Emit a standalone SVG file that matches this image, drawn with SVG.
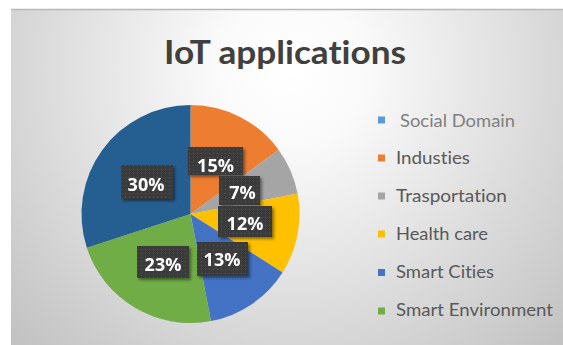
<svg xmlns="http://www.w3.org/2000/svg" width="563" height="345" viewBox="0 0 563 345">
  <defs>
    <radialGradient id="bg" gradientUnits="userSpaceOnUse" cx="290" cy="70" r="380">
      <stop offset="0" stop-color="#ffffff"/>
      <stop offset="0.2" stop-color="#fafafa"/>
      <stop offset="1" stop-color="#c3c3c3"/>
    </radialGradient>
    <pattern id="dots" width="4" height="4" patternUnits="userSpaceOnUse">
      <rect width="4" height="4" fill="#3a3a3a"/>
      <rect x="1" y="1" width="1" height="1" fill="#555555"/>
    </pattern>
    <filter id="shadow" x="-20%" y="-20%" width="150%" height="160%">
      <feGaussianBlur in="SourceAlpha" stdDeviation="1.5"/>
      <feOffset dx="2" dy="2" result="b"/>
      <feComponentTransfer><feFuncA type="linear" slope="0.45"/></feComponentTransfer>
      <feMerge><feMergeNode/><feMergeNode in="SourceGraphic"/></feMerge>
    </filter>
  </defs>
  <style>
    text { font-variant-ligatures: none; }
    .title { font-family: Lato, "Open Sans", sans-serif; font-weight: bold; font-size: 33px; fill: #404040; }
    .lbl { font-family: "Open Sans", Lato, sans-serif; font-weight: bold; font-size: 18px; fill: #ffffff; text-anchor: middle; }
    .box { fill: url(#dots); }
    .leg { font-family: Lato, "Open Sans", sans-serif; font-size: 18px; fill: #595959; }
  </style>

  <rect x="0" y="0" width="563" height="345" fill="#ffffff"/>
  <rect id="chart-area" x="11" y="9" width="552" height="336" fill="url(#bg)"/>
  <line x1="11" y1="9.5" x2="563" y2="9.5" stroke="#b8b8b8" stroke-width="1.5"/>

  <g id="title">
    <text class="title" x="164" y="64" textLength="242" lengthAdjust="spacingAndGlyphs">IoT applications</text>
  </g>

  <g id="pie">
    <path id="slice-industies" d="M190.5,214 L190.5,105 A109,109 0 0 1 278.68,149.93 Z" fill="#ED7D31"/>
    <path id="slice-trasportation" d="M190.5,214 L278.68,149.93 A109,109 0 0 1 297.57,193.58 Z" fill="#A5A5A5"/>
    <path id="slice-health" d="M190.5,214 L297.57,193.58 A109,109 0 0 1 282.53,272.41 Z" fill="#FFC000"/>
    <path id="slice-cities" d="M190.5,214 L282.53,272.41 A109,109 0 0 1 210.92,321.07 Z" fill="#4472C4"/>
    <path id="slice-environment" d="M190.5,214 L210.92,321.07 A109,109 0 0 1 86.83,247.68 Z" fill="#70AD47"/>
    <path id="slice-other" d="M190.5,214 L86.83,247.68 A109,109 0 0 1 190.5,105 Z" fill="#255E91"/>
  </g>

  <g id="data-labels">
    <g id="label-15" filter="url(#shadow)">
      <rect class="box" x="188" y="147" width="55" height="28"/>
      <text class="lbl" x="215.5" y="172">15%</text>
    </g>
    <g id="label-7" filter="url(#shadow)">
      <rect class="box" x="219" y="176" width="41" height="29"/>
      <text class="lbl" x="242.5" y="199">7%</text>
    </g>
    <g id="label-12" filter="url(#shadow)">
      <rect class="box" x="218" y="206" width="54" height="31"/>
      <text class="lbl" x="245" y="230">12%</text>
    </g>
    <g id="label-30" filter="url(#shadow)">
      <rect class="box" x="121" y="165" width="52" height="34"/>
      <text class="lbl" x="146" y="191">30%</text>
    </g>
    <g id="label-23" filter="url(#shadow)">
      <rect class="box" x="137" y="246" width="52" height="32"/>
      <text class="lbl" x="163" y="271">23%</text>
    </g>
    <g id="label-13" filter="url(#shadow)">
      <rect class="box" x="197" y="242" width="51" height="34"/>
      <text class="lbl" x="222" y="266">13%</text>
    </g>
  </g>

  <g id="legend">
    <g id="legend-social">
      <rect x="378" y="116.5" width="7" height="7" fill="#5B9BD5"/>
      <text class="leg" x="400" y="127" style="fill:#7f7f7f" textLength="115" lengthAdjust="spacingAndGlyphs">Social Domain</text>
    </g>
    <g id="legend-industies">
      <rect x="378" y="154.5" width="7" height="7" fill="#ED7D31"/>
      <text class="leg" x="396" y="164" textLength="74" lengthAdjust="spacingAndGlyphs">Industies</text>
    </g>
    <g id="legend-trasportation">
      <rect x="378" y="192.5" width="7" height="7" fill="#A5A5A5"/>
      <text class="leg" x="396" y="202" textLength="111" lengthAdjust="spacingAndGlyphs">Trasportation</text>
    </g>
    <g id="legend-health">
      <rect x="378" y="230.5" width="7" height="7" fill="#FFC000"/>
      <text class="leg" x="396" y="239.5" textLength="92" lengthAdjust="spacingAndGlyphs">Health care</text>
    </g>
    <g id="legend-cities">
      <rect x="378" y="269" width="7" height="7" fill="#4472C4"/>
      <text class="leg" x="396" y="277.5" textLength="98" lengthAdjust="spacingAndGlyphs">Smart Cities</text>
    </g>
    <g id="legend-environment">
      <rect x="378" y="307.5" width="7" height="7" fill="#70AD47"/>
      <text class="leg" x="396" y="315.5" textLength="157" lengthAdjust="spacingAndGlyphs">Smart Environment</text>
    </g>
  </g>
</svg>
